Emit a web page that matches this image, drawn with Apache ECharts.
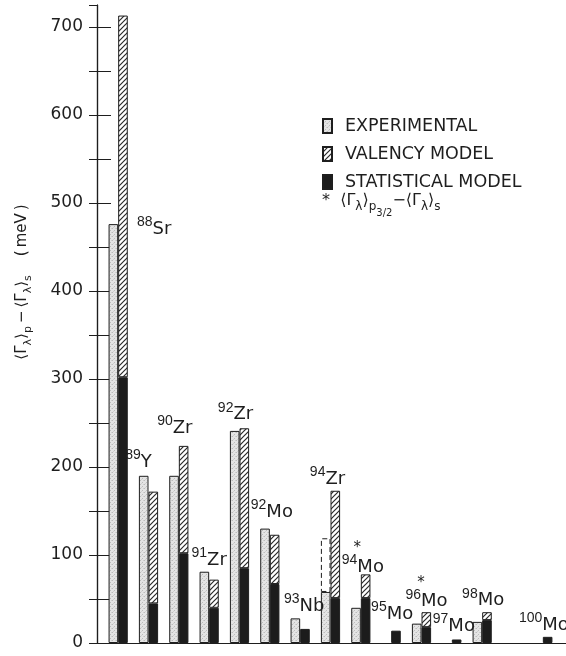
<!DOCTYPE html>
<html>
<head>
<meta charset="utf-8">
<script src="https://cdn.jsdelivr.net/npm/echarts@6/dist/echarts.min.js"></script>
<style>
  html, body { margin: 0; padding: 0; background: #fff; }
  #chart { width: 566px; height: 656px; }
</style>
</head>
<body>
<div id="chart"></div>
<script>
// nuclei along the axis (the empty slot is the missing 99Mo)
const massNumbers = ['88', '89', '90', '91', '92', '92', '93', '94', '94', '95', '96', '97', '98', '', '100'];
const elements = ['Sr', 'Y', 'Zr', 'Zr', 'Zr', 'Mo', 'Nb', 'Zr', 'Mo', 'Mo', 'Mo', 'Mo', 'Mo', '', 'Mo'];
const starred = [false, false, false, false, false, false, false, false, true, false, true, false, false, false, false];

// <Γλ>p - <Γλ>s in meV
const experimental = [476, 190, 190, 81, 241, 130, 28, 58, 40, null, 22, null, 24, null, null];
const experimentalUpper = [null, null, null, null, null, null, null, 119, null, null, null, null, null, null, null];
const valencyModel = [713, 172, 224, 72, 244, 123, null, 173, 78, null, 35, null, 35, null, null];
const statisticalModel = [302, 45, 102, 40, 85, 67, 16, 51, 51, 14, 18, 4, 26, null, 7];

const yTicks = [0, 100, 200, 300, 400, 500, 600, 700];

// label nudges in px (layout only)
const labelNudge = [[36, 211], [-10, -16], [-4, -20], [0, -14], [-4, -16], [2, -19], [4, -15], [-3, -14],
  [2, -16], [1, -19], [5, -19], [2, -16], [1, -14], [0, 0], [1, -14]];

const ink = '#1e1e1e';
const font = 'DejaVu Sans';

// fill patterns
function hatchPattern() {
  const c = document.createElement('canvas');
  c.width = 5; c.height = 5;
  const g = c.getContext('2d');
  g.fillStyle = '#fff';
  g.fillRect(0, 0, 5, 5);
  g.strokeStyle = '#2a2a2a';
  g.lineWidth = 1.2;
  g.beginPath();
  g.moveTo(0, 5); g.lineTo(5, 0);
  g.moveTo(-1, 1); g.lineTo(1, -1);
  g.moveTo(4, 6); g.lineTo(6, 4);
  g.stroke();
  return c;
}
function stipplePattern() {
  const c = document.createElement('canvas');
  c.width = 4; c.height = 4;
  const g = c.getContext('2d');
  g.fillStyle = '#e4e4e4';
  g.fillRect(0, 0, 4, 4);
  g.fillStyle = '#bcbcbc';
  g.fillRect(0, 0, 1, 1);
  g.fillRect(2, 2, 1, 1);
  g.fillStyle = '#d0d0d0';
  g.fillRect(3, 0, 1, 1);
  g.fillRect(1, 3, 1, 1);
  return c;
}

const yMax = 725;
const barW = 9.6;

const expUpperPart = experimentalUpper.map((v, i) => v == null ? null : v - experimental[i]);
const valencyPart = valencyModel.map((v, i) => v == null ? null : v - (statisticalModel[i] || 0));

const labelData = massNumbers.map((m, i) => {
  if (!m) return null;
  const tops = [experimental[i], experimentalUpper[i], valencyModel[i], statisticalModel[i]].filter(v => v != null);
  return { value: [i, Math.max.apply(null, tops)], label: { offset: labelNudge[i] } };
});

const chart = echarts.init(document.getElementById('chart'));

const option = {
  animation: false,
  backgroundColor: '#fff',
  grid: [
    { left: 97, right: -1, top: 5, bottom: 13, outerBoundsMode: 'none' },
    { left: 103, right: 8, top: 5, bottom: 13, outerBoundsMode: 'none' }
  ],
  legend: {
    data: ['EXPERIMENTAL', 'VALENCY MODEL', 'STATISTICAL MODEL'],
    orient: 'vertical',
    left: 322,
    top: 116,
    padding: 0,
    icon: 'rect',
    itemWidth: 9,
    itemHeight: 14,
    itemGap: 8,
    selectedMode: false,
    textStyle: { fontFamily: font, fontSize: 17.5, color: ink, lineHeight: 20, padding: [0, 0, 0, 8] }
  },
  xAxis: [
    { gridIndex: 0, type: 'value', min: 0, max: 1, position: 'bottom',
      axisLine: { show: true, lineStyle: { color: ink, width: 1.2 } },
      axisTick: { show: false }, axisLabel: { show: false }, splitLine: { show: false } },
    { gridIndex: 0, type: 'value', min: 0, max: 1, position: 'top',
      axisLine: { show: true, lineStyle: { color: ink, width: 1.2 } },
      axisTick: { show: false }, axisLabel: { show: false }, splitLine: { show: false } },
    { gridIndex: 1, type: 'category', data: massNumbers.map((m, i) => m + elements[i]), show: false }
  ],
  yAxis: [
    { gridIndex: 0, type: 'value', min: 0, max: yMax, interval: 50, position: 'left',
      axisLine: { show: true, lineStyle: { color: ink, width: 1.2 } },
      axisTick: { show: true, inside: true, length: 14, lineStyle: { color: ink, width: 1 } },
      axisLabel: {
        color: ink, fontFamily: font, fontSize: 17, margin: 14, showMaxLabel: false,
        formatter: v => yTicks.indexOf(v) >= 0 ? String(v) : ''
      },
      splitLine: { show: false } },
    { gridIndex: 0, type: 'value', min: 0, max: yMax, interval: 50, position: 'right',
      axisLine: { show: true, lineStyle: { color: ink, width: 1.2 } },
      axisTick: { show: true, inside: true, length: 8, lineStyle: { color: ink, width: 1 } },
      axisLabel: { show: false }, splitLine: { show: false } },
    { gridIndex: 1, type: 'value', min: 0, max: yMax, show: false }
  ],
  series: [
    {
      name: 'EXPERIMENTAL', type: 'bar', xAxisIndex: 2, yAxisIndex: 2, stack: 'exp',
      barWidth: barW, barGap: 0,
      itemStyle: { color: { image: stipplePattern(), repeat: 'repeat' }, borderColor: ink, borderWidth: 1 },
      data: experimental
    },
    {
      name: 'STATISTICAL MODEL', type: 'bar', xAxisIndex: 2, yAxisIndex: 2, stack: 'model',
      barWidth: barW, barGap: 0,
      itemStyle: { color: '#1c1c1c', borderColor: ink, borderWidth: 1 },
      data: statisticalModel
    },
    {
      name: 'upper limit', type: 'bar', xAxisIndex: 2, yAxisIndex: 2, stack: 'exp',
      barWidth: barW, barGap: 0,
      itemStyle: { color: '#fff', borderColor: ink, borderWidth: 1, borderType: [5, 3] },
      data: expUpperPart
    },
    {
      name: 'VALENCY MODEL', type: 'bar', xAxisIndex: 2, yAxisIndex: 2, stack: 'model',
      barWidth: barW, barGap: 0,
      itemStyle: { color: { image: hatchPattern(), repeat: 'repeat' }, borderColor: ink, borderWidth: 1 },
      data: valencyPart
    },
    {
      name: 'labels', type: 'scatter', xAxisIndex: 2, yAxisIndex: 2,
      symbolSize: 0.5, itemStyle: { color: '#ffffff', opacity: 1 }, silent: true,
      label: {
        show: true, position: 'inside', color: ink, opacity: 1, textBorderWidth: 0,
        formatter: p => {
          const i = p.dataIndex;
          return '{m|' + massNumbers[i] + '}' + (starred[i] ? '{s|*}' : '') + '{e|' + elements[i] + '}';
        },
        rich: {
          m: { fontFamily: 'Liberation Sans', fontSize: 14, verticalAlign: 'bottom', padding: [0, 0, 9, 0], color: ink },
          s: { fontFamily: font, fontSize: 15, width: 0, verticalAlign: 'bottom', padding: [0, 0, 20, 0], color: ink },
          e: { fontFamily: font, fontSize: 18, verticalAlign: 'bottom', color: ink }
        }
      },
      data: labelData
    }
  ],
  graphic: [
    {
      type: 'text', x: 24, y: 282, rotation: Math.PI / 2, silent: true,
      style: {
        text: '{a|\u27E8\u0393}{b|\u03BB}{a|\u27E9}{b|p}{a|\u2009\u2212\u2009\u27E8\u0393}{b|\u03BB}{a|\u27E9}{b|s}{a|    (\u2009meV\u2009)}',
        align: 'center', verticalAlign: 'middle',
        rich: {
          a: { fontFamily: font, fontSize: 15, verticalAlign: 'top', fill: ink },
          b: { fontFamily: font, fontSize: 11, verticalAlign: 'top', padding: [8, 0, 0, 0], fill: ink }
        }
      }
    },
    {
      type: 'text', x: 322, y: 193, silent: true,
      style: {
        text: '{a|*  \u27E8\u0393}{b|\u03BB}{a|\u27E9}{b|p}{c|3/2}{a|\u2212\u27E8\u0393}{b|\u03BB}{a|\u27E9}{b|s}',
        align: 'left', verticalAlign: 'top',
        rich: {
          a: { fontFamily: font, fontSize: 16, verticalAlign: 'top', fill: ink },
          b: { fontFamily: font, fontSize: 12, verticalAlign: 'top', padding: [8, 0, 0, 0], fill: ink },
          c: { fontFamily: font, fontSize: 10, verticalAlign: 'top', padding: [15, 0, 0, 0], fill: ink }
        }
      }
    }
  ]
};

chart.setOption(option);
</script>
</body>
</html>
